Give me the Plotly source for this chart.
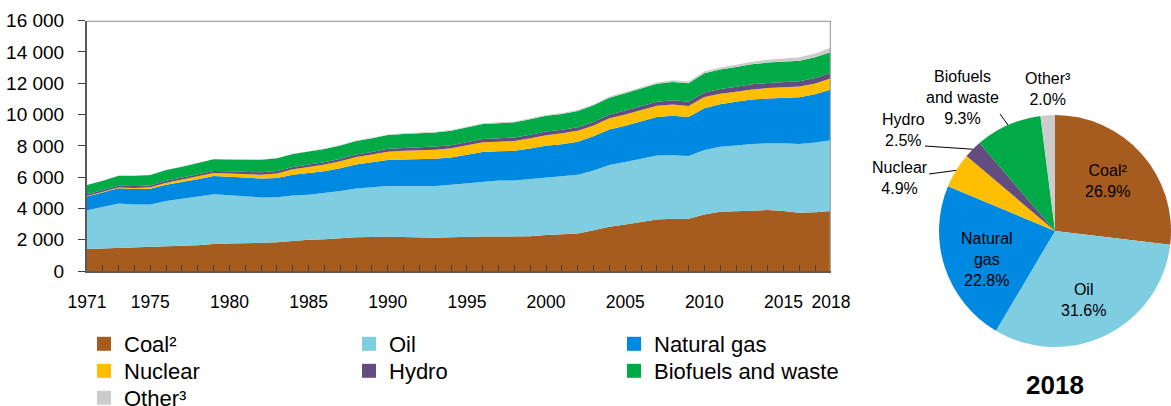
import math
import plotly.graph_objects as go

# ---------------- data ----------------
years = list(range(1971, 2019))

coal = [1410, 1440, 1495, 1490, 1510, 1570, 1610, 1650, 1730, 1760,
        1770, 1800, 1840, 1920, 2000, 2030, 2100, 2150, 2180, 2200,
        2170, 2140, 2130, 2150, 2190, 2210, 2200, 2190, 2220, 2300,
        2340, 2400, 2600, 2830, 2980, 3150, 3300, 3340, 3340, 3610,
        3790, 3820, 3880, 3900, 3830, 3730, 3760, 3840]
oil = [2470, 2640, 2820, 2760, 2740, 2900, 3000, 3110, 3180, 3080,
       2990, 2900, 2880, 2910, 2880, 2960, 3010, 3120, 3180, 3240,
       3260, 3300, 3310, 3370, 3430, 3510, 3580, 3590, 3660, 3680,
       3700, 3750, 3830, 3950, 3990, 4030, 4090, 4060, 4010, 4120,
       4150, 4200, 4240, 4260, 4340, 4390, 4450, 4510]
natural_gas = [890, 930, 975, 990, 1000, 1050, 1080, 1110, 1170, 1200,
               1210, 1210, 1230, 1320, 1370, 1390, 1460, 1530, 1590, 1660,
               1700, 1710, 1740, 1740, 1800, 1880, 1870, 1900, 1950, 2030,
               2070, 2120, 2180, 2260, 2320, 2380, 2460, 2530, 2490, 2670,
               2720, 2800, 2840, 2870, 2920, 2990, 3090, 3260]
nuclear = [29, 40, 54, 70, 100, 120, 150, 170, 180, 190,
           230, 250, 290, 350, 400, 420, 450, 490, 500, 525,
           550, 555, 575, 585, 610, 630, 620, 635, 660, 675,
           690, 695, 690, 720, 720, 725, 710, 710, 700, 720,
           675, 640, 650, 660, 670, 680, 690, 707]
hydro = [105, 108, 110, 118, 120, 122, 124, 132, 137, 140,
         143, 146, 151, 154, 156, 158, 159, 163, 162, 184,
         189, 188, 196, 198, 212, 215, 219, 221, 224, 225,
         222, 226, 228, 242, 252, 262, 266, 278, 280, 296,
         300, 315, 325, 333, 334, 345, 350, 357]
biofuels = [590, 610, 641, 660, 670, 690, 700, 720, 740, 760,
            780, 800, 810, 820, 830, 840, 850, 860, 870, 880,
            890, 900, 910, 920, 930, 950, 960, 970, 990, 1010,
            1020, 1040, 1060, 1080, 1100, 1120, 1140, 1170, 1180, 1220,
            1240, 1260, 1280, 1300, 1300, 1310, 1320, 1328]
other = [6, 6, 6, 7, 8, 9, 10, 11, 12, 13,
         15, 17, 19, 22, 25, 28, 30, 33, 36, 40,
         42, 44, 46, 48, 50, 52, 54, 56, 58, 60,
         63, 66, 70, 74, 78, 84, 90, 98, 106, 118,
         130, 145, 160, 175, 195, 220, 250, 286]

series_names = ["Coal²", "Oil", "Natural gas", "Nuclear", "Hydro",
                "Biofuels and waste", "Other³"]
series_values = [coal, oil, natural_gas, nuclear, hydro, biofuels, other]

x_tick_years = [1971, 1975, 1980, 1985, 1990, 1995, 2000, 2005, 2010, 2015, 2018]
y_ticks = [0, 2000, 4000, 6000, 8000, 10000, 12000, 14000, 16000]

pie_year = "2018"
pie_shares = [26.9, 31.6, 22.8, 4.9, 2.5, 9.3, 2.0]
pie_label_lines = ["Coal²", "Oil", "Natural<br>gas", "Nuclear", "Hydro",
                   "Biofuels<br>and waste", "Other³"]

# ---------------- style ----------------
W, H = 1171, 406
FONT = "Liberation Sans, Arial, sans-serif"
colors = ["#A65B1F", "#7FCDE1", "#0089E0", "#FFBE00", "#634C80", "#00AA46", "#CCCCCC"]

AX_X0, AX_X1 = 87 / W, 831 / W
AX_Y0, AX_Y1 = 1 - 271 / H, 1 - 20.7 / H

PIE_X = [939 / W, 1.0]
PIE_Y = [1 - 347 / H, 1 - 115 / H]

fig = go.Figure()

# stacked areas
for name, vals, col in zip(series_names, series_values, colors):
    fig.add_trace(go.Scatter(
        x=years, y=vals, name=name, stackgroup="one", mode="lines",
        line=dict(width=0, color=col), fillcolor=col, showlegend=False,
        hoverinfo="x+y+name"))

# legend entries (square markers), three rows
legend_rows = ["legend", "legend", "legend", "legend2", "legend2", "legend2", "legend3"]
for name, col, lg in zip(series_names, colors, legend_rows):
    fig.add_trace(go.Scatter(
        x=[None], y=[None], mode="markers", name=name, legend=lg,
        marker=dict(symbol="square", size=14, color=col), showlegend=True))

# pie
pie_text = [f"{lab}<br>{s:.1f}%" for lab, s in zip(pie_label_lines, pie_shares)]
fig.add_trace(go.Pie(
    labels=series_names, values=pie_shares, sort=False, direction="clockwise",
    rotation=0, domain=dict(x=PIE_X, y=PIE_Y),
    marker=dict(colors=colors, line=dict(width=0)),
    textinfo="none", showlegend=False, hoverinfo="label+percent"))

# pie geometry (pixels) for labels
cx = (PIE_X[0] + PIE_X[1]) / 2 * W
cy = (1 - (PIE_Y[0] + PIE_Y[1]) / 2) * H
r = min((PIE_X[1] - PIE_X[0]) * W, (PIE_Y[1] - PIE_Y[0]) * H) / 2
total = sum(pie_shares)

def slice_edge(i):
    cum = sum(pie_shares[:i]) + pie_shares[i] / 2
    th = 2 * math.pi * cum / total
    return cx + r * math.sin(th), cy - r * math.cos(th)

# label text centers and leader-line tails (pixels)
pie_label_pos = {
    0: dict(center=(1107, 181), tail=None),
    1: dict(center=(1083, 300), tail=None),
    2: dict(center=(987, 259), tail=None),
    3: dict(center=(900, 178), tail=(929, 174)),
    4: dict(center=(903, 130), tail=(925, 146)),
    5: dict(center=(962, 97), tail=(1000, 114)),
    6: dict(center=(1048, 89), tail=None),
}

annotations = []
shapes = []
for i, spec in pie_label_pos.items():
    tx, ty = spec["center"]
    annotations.append(dict(
        x=tx / W, y=1 - ty / H, xref="paper", yref="paper", showarrow=False,
        text=pie_text[i], align="center", xanchor="center", yanchor="middle",
        font=dict(family=FONT, size=16, color="black")))
    if spec["tail"] is not None:
        hx, hy = slice_edge(i)
        sx, sy = spec["tail"]
        shapes.append(dict(type="line", xref="paper", yref="paper",
                           x0=sx / W, y0=1 - sy / H, x1=hx / W, y1=1 - hy / H,
                           line=dict(color="black", width=1)))

annotations.append(dict(
    x=cx / W, y=1 - 385 / H, xref="paper", yref="paper", showarrow=False,
    text=f"<b>{pie_year}</b>", xanchor="center", yanchor="middle",
    font=dict(family=FONT, size=26, color="black")))

# grey frame at top and right of the area plot
shapes.append(dict(type="line", xref="x", yref="y", x0=years[0], x1=years[-1],
                   y0=y_ticks[-1], y1=y_ticks[-1], line=dict(color="#A6A6A6", width=2.5)))
shapes.append(dict(type="line", xref="x", yref="y", x0=years[-1], x1=years[-1],
                   y0=0, y1=y_ticks[-1], line=dict(color="#A6A6A6", width=2.5)))

legend_common = dict(orientation="h", xanchor="left", yanchor="middle",
                     entrywidth=220, entrywidthmode="pixels",
                     font=dict(family=FONT, size=22, color="black"),
                     bgcolor="rgba(0,0,0,0)", traceorder="normal", itemwidth=30)

fig.update_layout(
    width=W, height=H, autosize=False,
    margin=dict(l=0, r=0, t=0, b=0, pad=0, autoexpand=False),
    paper_bgcolor="white", plot_bgcolor="white",
    separators=". ",
    font=dict(family=FONT, color="black"),
    xaxis=dict(domain=[AX_X0, AX_X1], range=[years[0], years[-1]],
               tickmode="array", tickvals=x_tick_years,
               ticktext=[str(y) for y in x_tick_years], tickangle=0,
               ticks="inside", ticklen=6, tickwidth=1.2, tickcolor="#404040",
               minor=dict(dtick=1, tick0=years[0], ticks="inside", ticklen=6,
                          tickwidth=1.2, tickcolor="#404040"),
               showline=True, linecolor="#595959", linewidth=2,
               showgrid=False, zeroline=False, ticklabelstandoff=14,
               tickfont=dict(family=FONT, size=17.5, color="black")),
    yaxis=dict(domain=[AX_Y0, AX_Y1], range=[y_ticks[0], y_ticks[-1]],
               tickmode="array", tickvals=y_ticks, tickformat=",d",
               ticks="outside", ticklen=7, tickwidth=1.2, tickcolor="#404040",
               showline=True, linecolor="#595959", linewidth=2,
               showgrid=False, zeroline=False, ticklabelstandoff=10,
               tickfont=dict(family=FONT, size=19, color="black")),
    legend=dict(x=84 / W, y=1 - 344 / H, **legend_common),
    legend2=dict(x=84 / W, y=1 - 371 / H, **legend_common),
    legend3=dict(x=84 / W, y=1 - 398 / H, **legend_common),
    annotations=annotations,
    shapes=shapes,
)

fig.write_html(
    "out.html",
    config={"displayModeBar": False},
    post_script="document.body.style.margin='0';document.body.style.padding='0';"
                "document.body.style.overflow='hidden';",
)
